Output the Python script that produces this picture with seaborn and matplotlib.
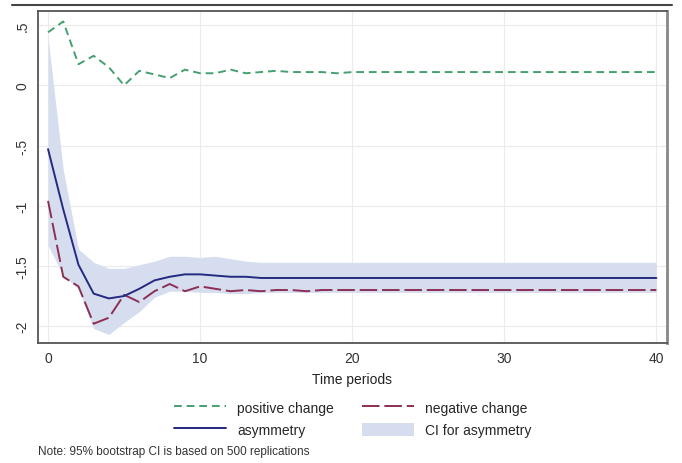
import numpy as np
import pandas as pd
import matplotlib
matplotlib.use("Agg")
import matplotlib.pyplot as plt
import seaborn as sns
from matplotlib.lines import Line2D
from matplotlib.patches import Patch

periods = list(range(41))
positive_change = [0.44, 0.53, 0.175, 0.245, 0.15, 0.0, 0.12, 0.09, 0.06, 0.13,
                   0.10, 0.10, 0.13, 0.10, 0.11, 0.12, 0.11, 0.11, 0.11, 0.10,
                   0.11] + [0.11] * 20
negative_change = [-0.96, -1.59, -1.67, -1.98, -1.93, -1.74, -1.80, -1.71, -1.65, -1.71,
                   -1.67, -1.69, -1.71, -1.70, -1.71, -1.70, -1.70, -1.71, -1.70, -1.70,
                   -1.70] + [-1.70] * 20
asymmetry = [-0.53, -1.03, -1.49, -1.73, -1.77, -1.75, -1.69, -1.62, -1.59, -1.57,
             -1.57, -1.58, -1.59, -1.59, -1.60, -1.60, -1.60, -1.60, -1.60, -1.60,
             -1.60] + [-1.60] * 20
ci_upper = [0.40, -0.70, -1.36, -1.47, -1.52, -1.52, -1.49, -1.46, -1.42, -1.42,
            -1.43, -1.42, -1.44, -1.46, -1.47, -1.47, -1.47, -1.47, -1.47, -1.47,
            -1.47] + [-1.47] * 20
ci_lower = [-1.33, -1.58, -1.69, -2.02, -2.07, -1.97, -1.88, -1.76, -1.71, -1.71,
            -1.72, -1.72, -1.73, -1.73, -1.72, -1.72, -1.72, -1.72, -1.72, -1.72,
            -1.72] + [-1.72] * 20

y_ticks = [0.5, 0, -0.5, -1, -1.5, -2]
y_tick_labels = [".5", "0", "-.5", "-1", "-1.5", "-2"]
x_ticks = [0, 10, 20, 30, 40]

df = pd.DataFrame({"period": periods, "positive": positive_change,
                   "negative": negative_change, "asym": asymmetry,
                   "lo": ci_lower, "hi": ci_upper})

sns.set_style("white")
plt.rcParams["font.family"] = ["Liberation Sans", "DejaVu Sans"]

W, H = 682, 464
fig = plt.figure(figsize=(W / 100, H / 100), dpi=100)
ax = fig.add_axes([38 / W, 1 - 344 / H, (667 - 38) / W, (344 - 12) / H])

c_pos = "#45a070"
c_neg = "#8c2f55"
c_asym = "#232a80"
c_ci = "#d6ddef"

ax.fill_between(df["period"], df["lo"], df["hi"], color=c_ci, linewidth=0, zorder=1)
sns.lineplot(data=df, x="period", y="positive", ax=ax, color=c_pos, lw=1.4,
             zorder=3).lines[-1].set_dashes((4, 2.5))
sns.lineplot(data=df, x="period", y="negative", ax=ax, color=c_neg, lw=1.4,
             zorder=3).lines[-1].set_dashes((9, 2.5))
sns.lineplot(data=df, x="period", y="asym", ax=ax, color=c_asym, lw=1.4, zorder=4)

ax.set_xlim(-0.66, 40.7)
ax.set_ylim(-2.14, 0.617)
ax.set_yticks(y_ticks)
ax.set_yticklabels(y_tick_labels, rotation=90, va="center", fontsize=10, color="#333333")
ax.set_xticks(x_ticks)
ax.set_xticklabels([str(t) for t in x_ticks], fontsize=10, color="#333333")
ax.tick_params(axis="both", direction="out", length=4, width=0.8, color="#555555", pad=2)
ax.grid(True, color="#ebebeb", lw=0.8, zorder=0)
ax.set_axisbelow(True)
for s in ax.spines.values():
    s.set_color("#555555")
    s.set_linewidth(1.3)
ax.spines["right"].set_color("#888888")
ax.spines["right"].set_linewidth(2)
ax.set_xlabel("Time periods", fontsize=10, labelpad=4.5, color="#222222")
ax.set_ylabel("")

handles = [
    Line2D([], [], color=c_pos, lw=1.4, dashes=(4, 2.5)),
    Line2D([], [], color=c_asym, lw=1.4),
    Line2D([], [], color=c_neg, lw=1.4, dashes=(9, 2.5)),
    Patch(facecolor=c_ci, edgecolor="none"),
]
labels = ["positive change", "asymmetry", "negative change", "CI for asymmetry"]
fig.legend(handles, labels, ncol=2, loc="center", bbox_to_anchor=(0.517, 0.095),
           frameon=False, fontsize=10, handlelength=3.75, columnspacing=2.0,
           handletextpad=0.8, labelspacing=0.55, handleheight=1.1)

fig.text(38 / W, 1 - 452 / H, "Note: 95% bootstrap CI is based on 500 replications",
         fontsize=8.5, color="#333333", va="center", ha="left")

fig.add_artist(Line2D([12 / W, 672 / W], [1 - 6 / H, 1 - 6 / H], color="#444444", lw=1.5))

fig.savefig("out.png", dpi=100)
